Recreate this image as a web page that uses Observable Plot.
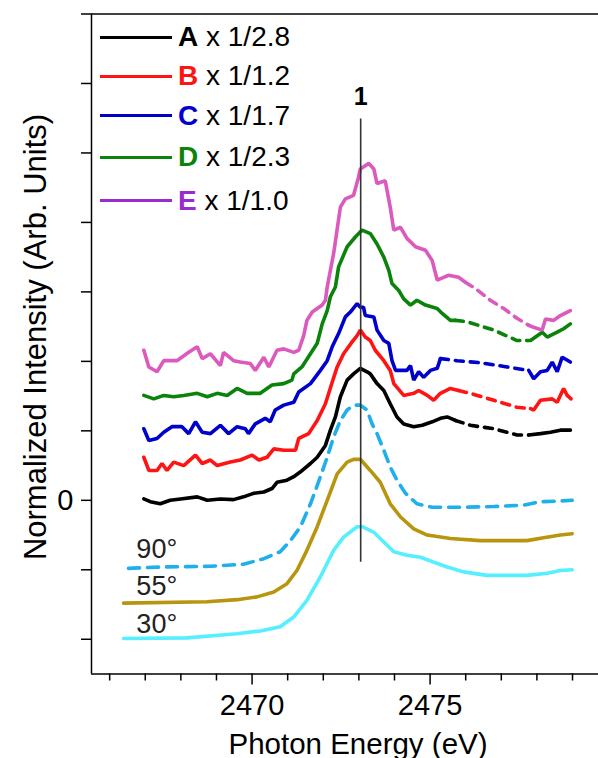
<!DOCTYPE html>
<html>
<head>
<meta charset="utf-8">
<script src="https://cdn.jsdelivr.net/npm/d3@7"></script>
<script src="https://cdn.jsdelivr.net/npm/@observablehq/plot@0.6"></script>
<style>
html, body { margin: 0; padding: 0; background: #fff; }
#wrap { position: relative; width: 598px; height: 758px; overflow: hidden; font-family: "Liberation Sans", Arial, sans-serif; }
#legend { position: absolute; left: 100px; top: 0; }
.row { position: absolute; left: 0; height: 32px; display: flex; align-items: center; white-space: nowrap; font-size: 28px; color: #000; }
.sw { width: 72px; height: 0; border-top: 3px solid; margin-right: 6px; }
.key { font-weight: bold; }
</style>
</head>
<body>
<div id="wrap"><div id="chart"></div><div id="legend"></div></div>
<script>
// ---- data (photon energy in eV, normalized intensity in arb. units) ----
const seriesKeys = ["A", "B", "C", "D", "E"];
const seriesFactors = ["1/2.8", "1/1.2", "1/1.7", "1/2.3", "1/1.0"];
const seriesColors = ["#000000", "#ff1414", "#0000cc", "#0b830b", "#dc5abd"];
const legendColors = ["#000000", "#ff1414", "#0000cc", "#0b830b", "#9a2bd1"];

const spectrumA = [[2466.96,0.02],[2467.14,-0.02],[2467.42,-0.05],[2467.70,0.00],[2467.99,0.02],[2468.46,0.05],[2468.74,0.00],[2469.11,0.02],[2469.48,0.01],[2469.76,0.05],[2470.04,0.10],[2470.33,0.12],[2470.56,0.17],[2470.70,0.26],[2470.98,0.29],[2471.17,0.34],[2471.36,0.41],[2471.64,0.53],[2471.83,0.62],[2472.06,0.79],[2472.20,1.01],[2472.34,1.20],[2472.48,1.49],[2472.67,1.73],[2472.85,1.82],[2473.04,1.90],[2473.23,1.85],[2473.32,1.82],[2473.51,1.68],[2473.70,1.58],[2473.88,1.39],[2474.07,1.20],[2474.26,1.10],[2474.54,1.06],[2474.78,1.08],[2475.06,1.13],[2475.29,1.18],[2475.48,1.20],[2475.71,1.15],[2476.13,1.08],[2476.79,1.03],[2477.44,0.94],[2477.77,0.94],[2478.10,0.96],[2478.38,0.98],[2478.66,1.01],[2478.94,1.01]];
const gapA = [2475.71, 2477.77];

const spectrumB = [[2466.96,0.62],[2467.10,0.43],[2467.33,0.43],[2467.47,0.53],[2467.61,0.43],[2467.80,0.55],[2468.08,0.50],[2468.41,0.65],[2468.60,0.53],[2468.83,0.58],[2469.02,0.50],[2469.39,0.55],[2469.67,0.58],[2470.00,0.65],[2470.19,0.58],[2470.42,0.62],[2470.61,0.74],[2470.89,0.72],[2471.22,0.72],[2471.31,0.89],[2471.59,0.96],[2471.83,1.15],[2472.06,1.39],[2472.25,1.70],[2472.39,1.92],[2472.57,2.11],[2472.81,2.28],[2472.95,2.37],[2473.04,2.45],[2473.18,2.35],[2473.32,2.30],[2473.46,2.16],[2473.70,2.01],[2473.88,1.87],[2473.98,1.68],[2474.26,1.51],[2474.54,1.54],[2474.68,1.58],[2474.92,1.51],[2475.10,1.44],[2475.29,1.54],[2475.57,1.61],[2475.80,1.58],[2476.13,1.54],[2476.79,1.44],[2477.44,1.34],[2477.82,1.32],[2477.91,1.30],[2478.10,1.44],[2478.43,1.46],[2478.57,1.41],[2478.75,1.61],[2478.85,1.51],[2478.96,1.46]];
const gapB = [2475.80, 2477.82];

const spectrumC = [[2466.96,1.03],[2467.10,0.86],[2467.33,0.89],[2467.52,0.98],[2467.75,1.06],[2468.03,1.06],[2468.22,0.96],[2468.41,1.13],[2468.60,0.98],[2468.83,0.96],[2469.11,1.08],[2469.34,0.96],[2469.58,1.06],[2469.81,1.03],[2469.90,0.96],[2470.09,1.10],[2470.37,1.18],[2470.51,1.13],[2470.65,1.30],[2470.89,1.37],[2471.17,1.41],[2471.31,1.56],[2471.64,1.68],[2471.92,1.87],[2472.11,2.01],[2472.25,2.21],[2472.43,2.40],[2472.62,2.64],[2472.76,2.71],[2472.95,2.83],[2473.04,2.78],[2473.13,2.78],[2473.18,2.66],[2473.42,2.64],[2473.51,2.45],[2473.70,2.30],[2473.84,2.26],[2473.93,2.01],[2474.03,1.87],[2474.35,1.87],[2474.45,1.94],[2474.54,1.73],[2474.68,1.85],[2474.82,1.77],[2475.01,1.87],[2475.20,1.90],[2475.29,2.04],[2475.76,2.01],[2476.41,1.98],[2477.16,1.92],[2477.77,1.87],[2477.91,1.75],[2478.10,1.85],[2478.29,1.87],[2478.43,1.99],[2478.57,1.85],[2478.71,2.06],[2478.94,1.99]];
const gapC = [2475.29, 2477.77];

const spectrumD = [[2466.96,1.51],[2467.24,1.46],[2467.52,1.51],[2467.80,1.49],[2468.08,1.51],[2468.46,1.54],[2468.74,1.49],[2469.02,1.54],[2469.30,1.51],[2469.58,1.61],[2469.86,1.54],[2470.23,1.54],[2470.56,1.66],[2470.89,1.68],[2471.12,1.73],[2471.17,1.82],[2471.40,1.92],[2471.64,2.11],[2471.83,2.26],[2471.97,2.54],[2472.11,2.73],[2472.20,2.93],[2472.34,3.07],[2472.43,3.36],[2472.67,3.65],[2472.90,3.79],[2473.09,3.89],[2473.32,3.84],[2473.51,3.69],[2473.70,3.50],[2473.84,3.31],[2473.93,3.12],[2474.12,3.02],[2474.26,2.90],[2474.45,2.81],[2474.63,2.88],[2474.87,2.81],[2475.20,2.76],[2475.34,2.69],[2475.57,2.59],[2475.71,2.59],[2476.04,2.57],[2476.79,2.45],[2477.44,2.30],[2477.72,2.30],[2477.82,2.30],[2478.15,2.42],[2478.29,2.35],[2478.57,2.42],[2478.75,2.47],[2478.94,2.54]];
const gapD = [2475.71, 2477.72];

const spectrumE = [[2466.96,2.16],[2467.10,1.92],[2467.33,1.85],[2467.52,2.01],[2467.89,2.01],[2468.22,2.13],[2468.46,2.21],[2468.60,2.04],[2468.83,2.11],[2469.11,1.94],[2469.20,2.13],[2469.48,2.01],[2469.67,1.99],[2469.95,1.97],[2470.09,1.87],[2470.33,2.06],[2470.47,1.92],[2470.70,2.16],[2470.89,2.18],[2471.17,2.13],[2471.31,2.16],[2471.45,2.37],[2471.54,2.59],[2471.69,2.71],[2471.97,2.81],[2472.06,2.88],[2472.11,3.07],[2472.20,3.31],[2472.29,3.55],[2472.48,4.22],[2472.62,4.34],[2472.85,4.39],[2472.99,4.65],[2473.04,4.77],[2473.28,4.85],[2473.42,4.77],[2473.51,4.56],[2473.74,4.60],[2473.88,4.22],[2473.98,3.89],[2474.17,3.93],[2474.35,3.77],[2474.59,3.65],[2474.87,3.60],[2475.06,3.45],[2475.20,3.17],[2475.38,3.21],[2475.52,3.24],[2475.80,3.21],[2475.99,3.14],[2476.27,3.05],[2476.69,2.88],[2477.07,2.76],[2477.44,2.62],[2477.77,2.52],[2477.91,2.49],[2478.15,2.45],[2478.24,2.61],[2478.47,2.59],[2478.66,2.66],[2478.94,2.73]];
const gapE = [2475.99, 2477.77];

const angleLabels = ["90°", "55°", "30°"];
const angleColors = ["#1fb0ec", "#b8950f", "#55efff"];
const angle90 = [[2466.53,-0.98],[2467.42,-0.96],[2468.83,-0.95],[2469.76,-0.92],[2470.33,-0.84],[2470.79,-0.74],[2471.08,-0.58],[2471.36,-0.38],[2471.64,-0.05],[2471.92,0.34],[2472.11,0.62],[2472.29,0.91],[2472.48,1.15],[2472.67,1.30],[2472.85,1.37],[2473.04,1.37],[2473.23,1.30],[2473.37,1.10],[2473.51,0.96],[2473.70,0.72],[2473.88,0.48],[2474.07,0.29],[2474.31,0.10],[2474.63,-0.05],[2475.06,-0.10],[2475.85,-0.10],[2476.79,-0.09],[2477.63,-0.07],[2478.10,-0.02],[2478.66,-0.01],[2478.99,0.00]];
const angle55 = [[2466.39,-1.48],[2468.74,-1.46],[2469.58,-1.43],[2470.14,-1.39],[2470.61,-1.32],[2470.98,-1.20],[2471.26,-1.01],[2471.54,-0.72],[2471.83,-0.38],[2472.11,0.00],[2472.39,0.38],[2472.67,0.55],[2472.85,0.59],[2473.04,0.59],[2473.32,0.43],[2473.60,0.26],[2473.88,-0.05],[2474.17,-0.24],[2474.54,-0.41],[2474.92,-0.50],[2475.57,-0.55],[2476.41,-0.58],[2477.72,-0.58],[2478.19,-0.54],[2478.66,-0.50],[2478.99,-0.48]];
const angle30 = [[2466.39,-1.99],[2468.17,-1.98],[2469.58,-1.92],[2470.23,-1.88],[2470.79,-1.82],[2471.17,-1.68],[2471.54,-1.44],[2471.92,-1.10],[2472.29,-0.72],[2472.57,-0.53],[2472.95,-0.38],[2473.10,-0.38],[2473.42,-0.46],[2473.70,-0.60],[2473.98,-0.74],[2474.35,-0.79],[2474.73,-0.82],[2475.10,-0.89],[2475.48,-0.96],[2475.94,-1.03],[2476.60,-1.08],[2477.72,-1.08],[2478.29,-1.05],[2478.66,-1.01],[2478.99,-1.00]];
const angleLabelPos = [[2466.75,-0.71],[2466.75,-1.24],[2466.75,-1.79]];

const peakEnergy = 2473.05;
const peakLabel = "1";
const peakRange = [5.49, -0.89];

const xDomain = [2465.49, 2479.73];
const yDomain = [-2.5, 7];
const xMinorTicks = [2466,2467,2468,2469,2471,2472,2473,2474,2476,2477,2478,2479];
const xMajorTicks = [2470, 2475];
const yTicks = [-2,-1,0,1,2,3,4,5,6,7];
const xLabel = "Photon Energy (eV)";
const yLabel = "Normalized Intensity (Arb. Units)";

// ---- build ----
const spectra = [spectrumA, spectrumB, spectrumC, spectrumD, spectrumE];
const gaps = [gapA, gapB, gapC, gapD, gapE];

function split(name, pts, gap) {
  const solid = [], dashed = [];
  pts.forEach(([e, v]) => {
    if (e >= gap[0] && e <= gap[1]) dashed.push({name, e, v});
    if (e <= gap[0]) solid.push({name, seg: name + "1", e, v});
    else if (e >= gap[1]) solid.push({name, seg: name + "2", e, v});
  });
  return {solid, dashed};
}

const font = '"Liberation Sans", Arial, sans-serif';
const marks = [];

// angle-dependent reference spectra
const angleSets = [angle90, angle55, angle30];
angleSets.forEach((pts, i) => {
  marks.push(Plot.line(pts, {x: d => d[0], y: d => d[1], stroke: angleColors[i], strokeWidth: 3.6,
    strokeDasharray: i === 0 ? "11,8" : null, curve: "linear"}));
});

spectra.forEach((pts, i) => {
  const {solid, dashed} = split(seriesKeys[i], pts, gaps[i]);
  marks.push(Plot.line(solid, {x: "e", y: "v", z: "seg", stroke: seriesColors[i], strokeWidth: 3.6, strokeLinejoin: "miter"}));
  marks.push(Plot.line(dashed, {x: "e", y: "v", stroke: seriesColors[i], strokeWidth: 3.6, strokeDasharray: "8,7"}));
});

// peak marker
marks.push(Plot.ruleX([peakEnergy], {y1: peakRange[0], y2: peakRange[1], stroke: "#333", strokeWidth: 1.6}));
marks.push(Plot.text([peakLabel], {x: () => peakEnergy, y: () => peakRange[0], text: d => d, dy: -14, lineAnchor: "bottom",
  fontSize: 25, fontWeight: "bold", fill: "#000"}));

// angle labels
marks.push(Plot.text(angleLabels, {x: (d, i) => angleLabelPos[i][0], y: (d, i) => angleLabelPos[i][1], text: d => d,
  textAnchor: "start", fontSize: 27, fill: "#222"}));

// axes and frame lines
marks.push(Plot.axisX({ticks: xMinorTicks, tickSize: 7, tickFormat: () => "", strokeWidth: 1.5, label: null}));
marks.push(Plot.axisX({ticks: xMajorTicks, tickSize: 11, tickPadding: 9, fontSize: 29, strokeWidth: 1.5, label: null, tickFormat: d => String(d)}));
marks.push(Plot.axisY({ticks: yTicks, tickSize: 10, tickPadding: 8, fontSize: 29, strokeWidth: 1.5, label: null,
  tickFormat: d => d === 0 ? "0" : ""}));
marks.push(Plot.ruleX([xDomain[0]], {stroke: "#000", strokeWidth: 1.5}));
marks.push(Plot.ruleY(yDomain, {stroke: "#000", strokeWidth: 1.5}));

marks.push(Plot.text([xLabel], {frameAnchor: "bottom", lineAnchor: "bottom", textAnchor: "middle", dx: 13, dy: 79.5, fontSize: 29.5, fill: "#000", text: d => d}));
marks.push(Plot.text([yLabel], {frameAnchor: "left", lineAnchor: "bottom", textAnchor: "middle", rotate: -90, dx: -46, dy: -7, fontSize: 31, fill: "#000", text: d => d}));

const chart = Plot.plot({
  width: 598,
  height: 758,
  marginLeft: 91,
  marginRight: 0,
  marginTop: 13.5,
  marginBottom: 84.5,
  style: {fontFamily: font, background: "#fff", color: "#000", overflow: "visible"},
  x: {domain: xDomain},
  y: {domain: yDomain},
  marks
});
document.getElementById("chart").appendChild(chart);

// legend
const legendCenters = [37, 76, 115.5, 157, 200.5];
const legend = document.getElementById("legend");
seriesKeys.forEach((k, i) => {
  const row = document.createElement("div");
  row.className = "row";
  row.style.top = (legendCenters[i] - 16) + "px";
  const sw = document.createElement("div");
  sw.className = "sw";
  sw.style.borderTopColor = legendColors[i];
  const key = document.createElement("span");
  key.className = "key";
  key.style.color = legendColors[i];
  key.textContent = k;
  const txt = document.createElement("span");
  txt.textContent = "\u00a0x " + seriesFactors[i];
  row.append(sw, key, txt);
  legend.appendChild(row);
});
</script>
</body>
</html>
